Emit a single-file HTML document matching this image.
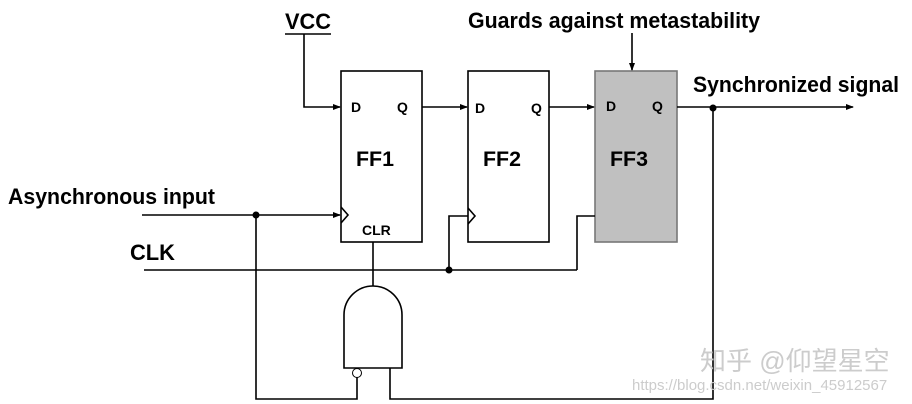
<!DOCTYPE html>
<html><head><meta charset="utf-8"><style>
html,body{margin:0;padding:0;background:#fff;width:912px;height:404px;overflow:hidden}
svg text{font-family:"Liberation Sans",Arial,sans-serif;font-weight:bold;fill:#000}
</style></head><body>
<svg width="912" height="404" viewBox="0 0 912 404" xmlns="http://www.w3.org/2000/svg">
<defs><marker id="a" markerWidth="8" markerHeight="8" refX="7" refY="4" orient="auto" markerUnits="userSpaceOnUse"><path d="M0,1 L8,4 L0,7 Z" fill="#000"/></marker></defs>
<g stroke="#000" stroke-width="1.6" fill="none">
<rect x="341" y="71" width="81" height="171" fill="#fff"/>
<rect x="468" y="71" width="81" height="171" fill="#fff"/>
<rect x="595" y="71" width="82" height="171" fill="#c0c0c0" stroke="#777"/>
<path d="M341,207 L348,215 L341,223"/>
<path d="M468,208 L475,216 L468,224"/>
<line x1="285" y1="34" x2="331" y2="34"/>
<polyline points="304,34 304,107 340,107" marker-end="url(#a)"/>
<line x1="422" y1="107" x2="467" y2="107" marker-end="url(#a)"/>
<line x1="549" y1="107" x2="594" y2="107" marker-end="url(#a)"/>
<line x1="677" y1="107" x2="853" y2="107" marker-end="url(#a)"/>
<line x1="632" y1="33" x2="632" y2="70" marker-end="url(#a)"/>
<line x1="142" y1="215" x2="340" y2="215" marker-end="url(#a)"/>
<line x1="144" y1="270" x2="577" y2="270"/>
<polyline points="449,270 449,216 468,216"/>
<polyline points="577,270 577,216 595,216"/>
<line x1="373" y1="242" x2="373" y2="287"/>
<path d="M344,368 L344,315 A28,28 0 0 1 402,315 L402,368 Z" fill="#fff"/>
<circle cx="357" cy="373" r="4.5" fill="#fff" stroke-width="1"/>
<polyline points="256,215 256,399 357,399 357,377"/>
<polyline points="390,368 390,399 713,399 713,107"/>
</g>
<g fill="#000"><circle cx="256" cy="215" r="3.5"/><circle cx="449" cy="270" r="3.5"/><circle cx="713" cy="108" r="3.5"/></g>
<text x="285" y="29" font-size="22" textLength="46" lengthAdjust="spacingAndGlyphs">VCC</text>
<text x="468" y="28" font-size="22" textLength="292" lengthAdjust="spacingAndGlyphs">Guards against metastability</text>
<text x="693" y="92" font-size="22" textLength="206" lengthAdjust="spacingAndGlyphs">Synchronized signal</text>
<text x="8" y="204" font-size="22" textLength="207" lengthAdjust="spacingAndGlyphs">Asynchronous input</text>
<text x="130" y="260" font-size="22" textLength="45" lengthAdjust="spacingAndGlyphs">CLK</text>
<text x="351" y="112" font-size="14">D</text><text x="397" y="112" font-size="14">Q</text>
<text x="475" y="113" font-size="14">D</text><text x="531" y="113" font-size="14">Q</text>
<text x="606" y="111" font-size="14">D</text><text x="652" y="111" font-size="14">Q</text>
<text x="356" y="166" font-size="21" textLength="38" lengthAdjust="spacingAndGlyphs">FF1</text>
<text x="483" y="166" font-size="21" textLength="38" lengthAdjust="spacingAndGlyphs">FF2</text>
<text x="610" y="166" font-size="21" textLength="38" lengthAdjust="spacingAndGlyphs">FF3</text>
<text x="362" y="235" font-size="14">CLR</text>
<text x="700" y="370" font-size="26" style="fill:#ccc;font-weight:normal;font-family:'Liberation Sans','Noto Sans CJK SC',sans-serif">知乎 @仰望星空</text>
<text x="632" y="390" font-size="15" style="fill:#ccc;font-weight:normal">https://blog.csdn.net/weixin_45912567</text>
</svg>
</body></html>
